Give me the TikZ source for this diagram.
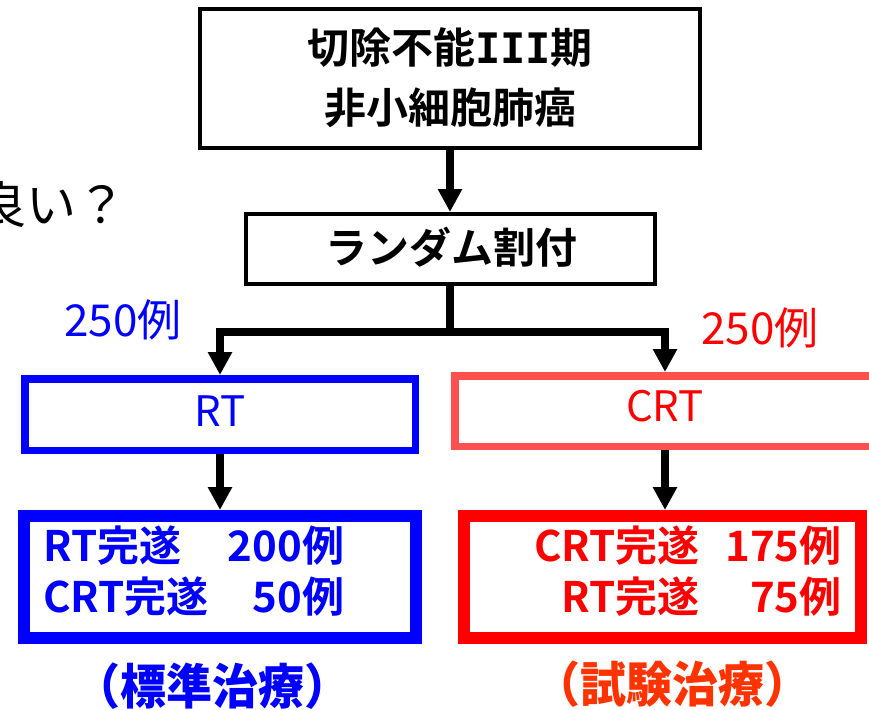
\documentclass[tikz,border=0pt]{standalone}
\usepackage{fontspec}
\usetikzlibrary{arrows.meta}
\setmainfont{Noto Sans CJK JP}
\newfontfamily\jp{Noto Sans CJK JP}
\newfontfamily\jpbold{Noto Sans CJK JP Bold}
\newfontfamily\jpblack{Noto Sans CJK JP Black}
\newfontfamily\monob{DejaVu Sans Mono Bold}
\definecolor{myblue}{HTML}{0000FF}
\definecolor{myred}{HTML}{FF0000}
\definecolor{mysalmon}{HTML}{FF5050}
\definecolor{myorange}{HTML}{FF3300}
\begin{document}
\begin{tikzpicture}[x=1pt,y=-1pt,
  box/.style={draw, rectangle, inner sep=0pt},
  arr/.style={line width=8pt, draw=black, -{Triangle[width=23pt,length=23pt]}},
  conn/.style={line width=8pt, draw=black},
  bigtxt/.style={font=\jpbold\fontsize{42}{60}\selectfont, align=center, inner sep=0pt}
]
\useasboundingbox (0,0) rectangle (869,709);

% top-left clipped question text
\node[anchor=east, inner sep=0pt, font=\jp\fontsize{50}{54}\selectfont] (q) at (127,204) {良い？};

% top box
\node[box, line width=4pt, minimum width=500pt, minimum height=139pt] (top) at (450,78.5) {};
\node[bigtxt] (toptxt) at (450,78) {切除不能{\monob III}期\\非小細胞肺癌};

% random box
\node[box, line width=4pt, minimum width=409pt, minimum height=70pt] (rand) at (450,249) {};
\node[bigtxt] (randtxt) at (451,247) {ランダム割付};

% arms
\node[box, draw=myblue, line width=7.5pt, minimum width=390.5pt, minimum height=71.5pt] (rt) at (220,414.5) {};
\node[inner sep=0pt, text=myblue, font=\jp\fontsize{42}{46}\selectfont] (rttxt) at (220,411) {RT};
\node[box, draw=mysalmon, line width=7.5pt, minimum width=420.5pt, minimum height=70.5pt] (crt) at (665,411) {};
\node[inner sep=0pt, text=myred, font=\jp\fontsize{42}{46}\selectfont] (crttxt) at (665,406) {CRT};

\node[inner sep=0pt, text=myblue, font=\jp\fontsize{44}{48}\selectfont, anchor=west] (n1) at (64,320) {250例};
\node[inner sep=0pt, text=myred, font=\jp\fontsize{44}{48}\selectfont, anchor=west] (n2) at (701,328) {250例};

% results
\node[box, draw=myblue, line width=12pt, minimum width=392pt, minimum height=122pt] (rtres) at (220,577) {};
\node[inner sep=0pt, anchor=west, text=myblue, align=left, font=\jpbold\fontsize{42}{51}\selectfont] (rtrestxt) at (43,571)
  {\makebox[301pt]{RT完遂\hfill 200例}\\\makebox[301pt]{CRT完遂\hfill 50例}};
\node[box, draw=myred, line width=12pt, minimum width=397pt, minimum height=122pt] (crtres) at (662.5,577) {};
\node[inner sep=0pt, anchor=east, text=myred, align=left, font=\jpbold\fontsize{42}{51}\selectfont] (crtrestxt) at (842,571)
  {\makebox[172pt][r]{CRT完遂}\makebox[142pt][r]{175例}\\\makebox[172pt][r]{RT完遂}\makebox[142pt][r]{75例}};

% labels
\node[inner sep=0pt, text=myblue, font=\jpblack\fontsize{46}{50}\selectfont, yscale=1.05, xscale=1.0] (lab1) at (212,686) {（標準治療）};
\node[inner sep=0pt, text=myorange, font=\jpblack\fontsize{46}{50}\selectfont, yscale=1.05, xscale=1.0] (lab2) at (672,684) {（試験治療）};

% connectors
\coordinate (j) at (450,332);
\draw[arr] (top.south) -- (rand.north);
\draw[conn] (rand.south) -- ([yshift=4pt]j);
\draw[arr, line join=miter] (j) -| (rt.north);
\draw[arr, line join=miter] (j) -| (crt.north);
\draw[arr] (rt.south) -- (rtres.north);
\draw[arr] (crt.south) -- (crt.south |- crtres.north);
\end{tikzpicture}
\end{document}
